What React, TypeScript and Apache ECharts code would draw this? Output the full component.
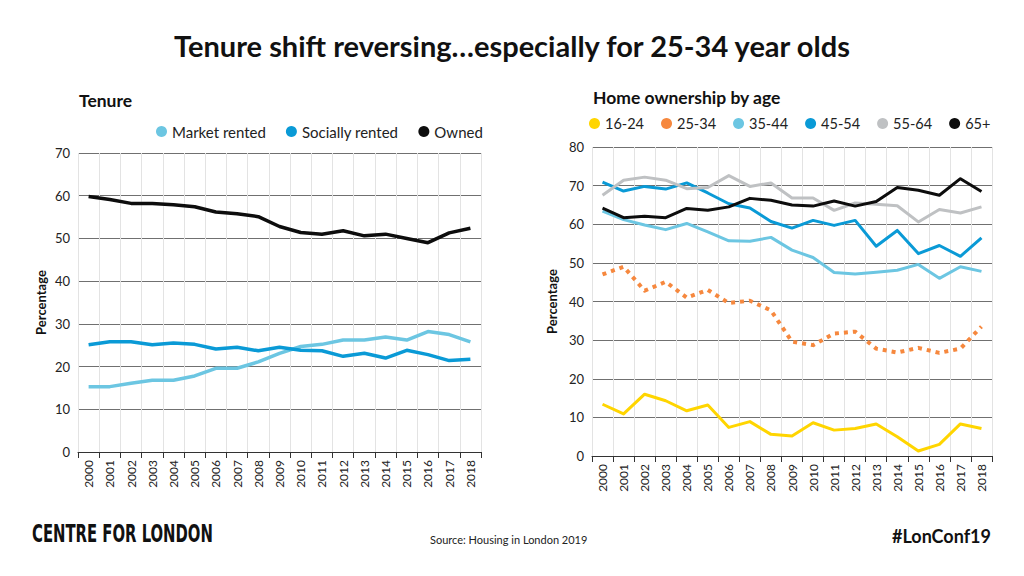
import React, { useEffect, useRef } from "react";
import * as echarts from "echarts";

const years = ["2000","2001","2002","2003","2004","2005","2006","2007","2008","2009","2010","2011","2012","2013","2014","2015","2016","2017","2018"];

const marketRented = [15.3,15.3,16.1,16.8,16.8,17.8,19.6,19.6,21.1,23.1,24.7,25.2,26.2,26.2,26.9,26.2,28.2,27.5,25.8];
const sociallyRented = [25.1,25.8,25.8,25.1,25.5,25.2,24.1,24.5,23.7,24.5,23.8,23.7,22.4,23.1,22.0,23.8,22.8,21.4,21.7];
const owned = [59.8,59.1,58.2,58.2,57.9,57.4,56.2,55.8,55.1,52.8,51.4,51.0,51.8,50.6,51.0,50.0,49.0,51.3,52.4];

const age1624 = [13.4,10.9,16.0,14.3,11.7,13.2,7.4,8.9,5.6,5.2,8.6,6.7,7.1,8.3,5.0,1.3,3.0,8.3,7.1];
const age2534 = [47.0,49.0,42.8,45.1,41.0,43.0,39.6,40.2,37.7,29.6,28.7,31.7,32.2,27.8,26.8,28.0,26.7,27.8,33.5];
const age3544 = [63.4,61.2,59.8,58.6,60.2,58.0,55.7,55.6,56.6,53.3,51.4,47.5,47.1,47.6,48.1,49.6,46.0,49.0,47.8];
const age4554 = [70.9,68.6,69.8,69.1,70.7,68.1,65.3,64.2,60.7,59.0,61.0,59.7,61.0,54.3,58.4,52.4,54.5,51.7,56.5];
const age5564 = [67.5,71.4,72.2,71.4,69.2,69.5,72.6,69.8,70.7,66.8,66.8,63.6,65.5,65.2,64.8,60.6,63.8,62.9,64.5];
const age65 = [64.2,61.7,62.1,61.7,64.1,63.6,64.5,66.7,66.2,65.0,64.7,66.0,64.7,65.9,69.5,68.8,67.5,71.8,68.5];

const FONT = "Lato, 'Noto Sans', sans-serif";
const C_YELLOW = "#ffd500";
const C_ORANGE = "#f6883e";
const C_LIGHT = "#6cc6e2";
const C_MID = "#0a9ad6";
const C_GRAY = "#bfc1c3";
const C_BLACK = "#0d0d0d";

function xAxis(gridIndex: number) {
  return {
    type: "category",
    gridIndex,
    data: years,
    boundaryGap: true,
    axisLine: { show: true, lineStyle: { color: "#333", width: 1 } },
    axisTick: { show: true, length: 6, lineStyle: { color: "#333" } },
    axisLabel: { rotate: 90, fontFamily: FONT, fontSize: 12, color: "#222", margin: 8 },
    splitLine: { show: true, lineStyle: { color: "#e3e3e3", width: 1 } },
  };
}

function yAxis(gridIndex: number, max: number, nameGap: number) {
  return {
    type: "value",
    gridIndex,
    min: 0,
    max,
    interval: 10,
    name: "Percentage",
    nameLocation: "middle",
    nameGap,
    nameRotate: 90,
    nameTextStyle: { fontFamily: FONT, fontSize: 13, fontWeight: "bold", color: "#111" },
    axisLine: { show: false },
    axisTick: { show: false },
    axisLabel: { fontFamily: FONT, fontSize: 13, color: "#222", margin: 8 },
    splitLine: { show: true, lineStyle: { color: "#707070", width: 1 } },
  };
}

function line(name: string, data: number[], color: string, xi: number, width: number, type: any = "solid") {
  return {
    type: "line",
    name,
    data,
    xAxisIndex: xi,
    yAxisIndex: xi,
    symbol: "none",
    smooth: false,
    color,
    lineStyle: { color, width, type, cap: "butt", join: "round" },
  };
}

export default function App() {
  const ref = useRef<HTMLDivElement>(null);
  useEffect(() => {
    document.body.style.margin = "0";
    const chart = echarts.init(ref.current!, null, { renderer: "svg" });
    chart.setOption({
      animation: false,
      backgroundColor: "#ffffff",
      title: [
        {
          text: "Tenure shift reversing…especially for 25-34 year olds",
          left: "center",
          top: 31,
          padding: 0,
          textStyle: { fontFamily: FONT, fontSize: 29, fontWeight: "bold", color: "#111" },
        },
        {
          text: "Tenure",
          left: 79,
          top: 91,
          padding: 0,
          textStyle: { fontFamily: FONT, fontSize: 17.5, fontWeight: "bold", color: "#111" },
        },
        {
          text: "Home ownership by age",
          left: 593,
          top: 88,
          padding: 0,
          textStyle: { fontFamily: FONT, fontSize: 17.5, fontWeight: "bold", color: "#111" },
        },
        {
          text: "Source: Housing in London 2019",
          left: 430,
          top: 534,
          padding: 0,
          textStyle: { fontFamily: FONT, fontSize: 11, fontWeight: "normal", color: "#222" },
        },
        {
          text: "#LonConf19",
          right: 33,
          top: 527,
          padding: 0,
          textStyle: { fontFamily: FONT, fontSize: 18, fontWeight: "bold", color: "#111" },
        },
      ],
      graphic: [
        {
          type: "text",
          x: 32,
          y: 533,
          scaleX: 0.66,
          style: {
            text: "CENTRE FOR LONDON",
            fontFamily: "'DejaVu Sans Condensed', 'DejaVu Sans', sans-serif",
            fontSize: 25,
            fontWeight: "bold",
            fill: "#111",
            textVerticalAlign: "middle",
          },
        },
      ],
      legend: [
        {
          data: ["Market rented", "Socially rented", "Owned"],
          left: 151,
          top: 119,
          icon: "circle",
          itemWidth: 11,
          itemHeight: 11,
          itemGap: 20,
          textStyle: { fontFamily: FONT, fontSize: 15, color: "#222" },
        },
        {
          data: ["16-24", "25-34", "35-44", "45-54", "55-64", "65+"],
          left: 584,
          top: 111,
          icon: "circle",
          itemWidth: 11,
          itemHeight: 11,
          itemGap: 17,
          textStyle: { fontFamily: FONT, fontSize: 14.5, color: "#222" },
        },
      ],
      grid: [
        { left: 78, top: 153, width: 403, height: 299 },
        { left: 592, top: 147, width: 400, height: 309 },
      ],
      xAxis: [xAxis(0), xAxis(1)],
      yAxis: [yAxis(0, 70, 31), yAxis(1, 80, 34)],
      series: [
        line("Market rented", marketRented, C_LIGHT, 0, 3.5),
        line("Socially rented", sociallyRented, C_MID, 0, 3.5),
        line("Owned", owned, C_BLACK, 0, 3.5),
        line("16-24", age1624, C_YELLOW, 1, 3),
        line("25-34", age2534, C_ORANGE, 1, 4, [4, 5]),
        line("35-44", age3544, C_LIGHT, 1, 3),
        line("45-54", age4554, C_MID, 1, 3),
        line("55-64", age5564, C_GRAY, 1, 3),
        line("65+", age65, C_BLACK, 1, 3),
      ],
    });
    return () => chart.dispose();
  }, []);
  return <div ref={ref} style={{ width: 1024, height: 576 }} />;
}
